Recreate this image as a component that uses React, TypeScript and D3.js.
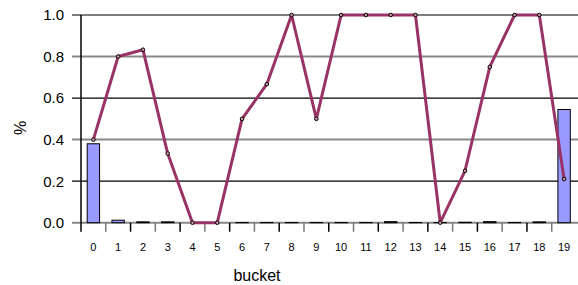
import React, { useEffect, useRef } from "react";
import * as d3 from "d3";

const buckets = ["0","1","2","3","4","5","6","7","8","9","10","11","12","13","14","15","16","17","18","19"];
const share = [0.38, 0.012, 0.004, 0.004, 0, 0, 0.001, 0.001, 0.001, 0.001, 0.001, 0.001, 0.005, 0.001, 0.001, 0.002, 0.005, 0.001, 0.004, 0.545];
const rate = [0.4, 0.8, 0.833, 0.333, 0, 0, 0.5, 0.667, 1, 0.5, 1, 1, 1, 1, 0, 0.25, 0.75, 1, 1, 0.21];
const yTicks = [0, 0.2, 0.4, 0.6, 0.8, 1.0];

export default function App() {
  const svgRef = useRef<SVGSVGElement>(null);

  useEffect(() => {
    const svg = d3.select(svgRef.current);
    svg.selectAll("*").remove();

    const left = 81, right = 576.5, top = 15, bottom = 222.7;
    const x = d3.scaleBand().domain(buckets).range([left, right]).paddingInner(0).paddingOuter(0);
    const y = d3.scaleLinear().domain([0, 1]).range([bottom, top]);
    const font = "Liberation Sans, Arial, sans-serif";

    // gridlines, alternating black / gray
    svg.append("g")
      .selectAll("line")
      .data(yTicks)
      .join("line")
      .attr("x1", 72)
      .attr("x2", 578)
      .attr("y1", (d) => y(d))
      .attr("y2", (d) => y(d))
      .attr("stroke", (d, i) => (i % 2 === 0 ? "#888" : "#000"))
      .attr("stroke-width", (d, i) => (i % 2 === 0 ? 2 : 1.2));

    svg.append("g")
      .selectAll("text")
      .data(yTicks)
      .join("text")
      .attr("x", 64)
      .attr("y", (d) => y(d))
      .attr("dy", "0.36em")
      .attr("text-anchor", "end")
      .attr("font-family", font)
      .attr("font-size", 15)
      .attr("fill", "#000")
      .text((d) => d.toFixed(1));

    // bars
    const bw = x.bandwidth() * 0.5;
    svg.append("g")
      .selectAll("rect")
      .data(share)
      .join("rect")
      .attr("x", (d, i) => x(buckets[i])! + (x.bandwidth() - bw) / 2)
      .attr("y", (d) => y(d))
      .attr("width", bw)
      .attr("height", (d) => bottom - y(d))
      .attr("fill", "#9999ff")
      .attr("stroke", "#000")
      .attr("stroke-width", 1);

    // axis line and ticks
    svg.append("line")
      .attr("x1", left).attr("x2", left)
      .attr("y1", top).attr("y2", bottom + 9)
      .attr("stroke", "#000").attr("stroke-width", 1.5);

    svg.append("g")
      .selectAll("line")
      .data(buckets.slice(1))
      .join("line")
      .attr("x1", (d) => x(d)!)
      .attr("x2", (d) => x(d)!)
      .attr("y1", bottom)
      .attr("y2", bottom + 9)
      .attr("stroke", (d, i) => (i % 2 === 0 ? "#777" : "#000"))
      .attr("stroke-width", 1.5);

    svg.append("g")
      .selectAll("text")
      .data(buckets)
      .join("text")
      .attr("x", (d) => x(d)! + x.bandwidth() / 2)
      .attr("y", 247)
      .attr("dy", "0.36em")
      .attr("text-anchor", "middle")
      .attr("font-family", font)
      .attr("font-size", 11)
      .text((d) => d);

    // line
    const line = d3.line<number>()
      .x((d, i) => x(buckets[i])! + x.bandwidth() / 2)
      .y((d) => y(d));
    svg.append("path")
      .datum(rate)
      .attr("d", line)
      .attr("fill", "none")
      .attr("stroke", "#993366")
      .attr("stroke-width", 3)
      .attr("stroke-linejoin", "round");

    svg.append("g")
      .selectAll("circle")
      .data(rate)
      .join("circle")
      .attr("cx", (d, i) => x(buckets[i])! + x.bandwidth() / 2)
      .attr("cy", (d) => y(d))
      .attr("r", 1.8)
      .attr("fill", "#cc99aa")
      .attr("stroke", "#000")
      .attr("stroke-width", 1);

    svg.append("text")
      .attr("x", 257)
      .attr("y", 275)
      .attr("dy", "0.36em")
      .attr("text-anchor", "middle")
      .attr("font-family", font)
      .attr("font-size", 16)
      .text("bucket");

    svg.append("text")
      .attr("transform", "translate(20,128) rotate(-90)")
      .attr("dy", "0.36em")
      .attr("text-anchor", "middle")
      .attr("font-family", font)
      .attr("font-size", 16)
      .text("%");
  }, []);

  return (
    <svg
      ref={svgRef}
      width={578}
      height={285}
      style={{ position: "absolute", left: 0, top: 0, background: "#fff" }}
    />
  );
}
